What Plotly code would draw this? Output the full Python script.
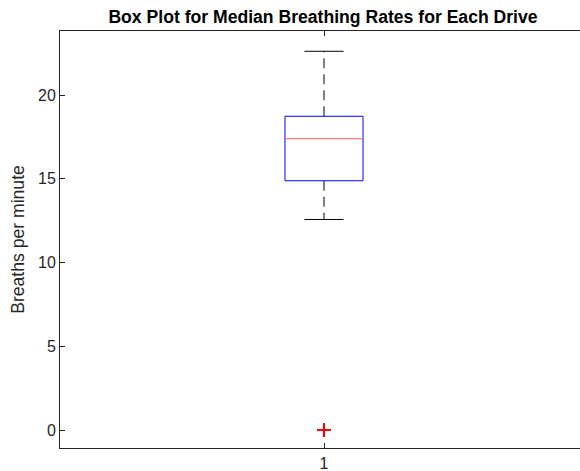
import plotly.graph_objects as go

# Box statistics (breaths per minute)
group = [1]
q1 = [14.88]
median = [17.39]
q3 = [18.73]
whisker_low = [12.57]
whisker_high = [22.61]
outliers = [0.0]

box_half = 0.0739
cap_half = 0.037

fig = go.Figure()
x0 = group[0]
# Whiskers (dashed)
fig.add_trace(go.Scatter(x=[x0, x0, None, x0, x0], y=[q3[0], whisker_high[0], None, q1[0], whisker_low[0]],
                         mode="lines", line=dict(color="black", width=1, dash="10px,6px"), hoverinfo="skip"))
# Caps
fig.add_trace(go.Scatter(x=[x0 - cap_half, x0 + cap_half, None, x0 - cap_half, x0 + cap_half],
                         y=[whisker_high[0], whisker_high[0], None, whisker_low[0], whisker_low[0]],
                         mode="lines", line=dict(color="black", width=1), hoverinfo="skip"))
# Box
fig.add_trace(go.Scatter(x=[x0 - box_half, x0 + box_half, x0 + box_half, x0 - box_half, x0 - box_half],
                         y=[q1[0], q1[0], q3[0], q3[0], q1[0]],
                         mode="lines", line=dict(color="blue", width=1), fill="toself",
                         fillcolor="rgba(255,255,255,1)", hoverinfo="skip"))
# Median
fig.add_trace(go.Scatter(x=[x0 - box_half, x0 + box_half], y=[median[0], median[0]],
                         mode="lines", line=dict(color="#ff5a5a", width=1), hoverinfo="skip"))
# Outliers
fig.add_trace(go.Scatter(x=[x0] * len(outliers), y=outliers, mode="markers",
                         marker=dict(symbol="cross-thin", size=10, line=dict(color="red", width=2)),
                         hoverinfo="skip"))

fig.update_layout(
    width=580, height=471,
    margin=dict(l=60, r=0, t=31, b=23),
    paper_bgcolor="white", plot_bgcolor="white",
    showlegend=False,
    font=dict(family="Liberation Sans, Arial, sans-serif", color="#262626", size=16),
    title=dict(text="<b>Box Plot for Median Breathing Rates for Each Drive</b>",
               x=323 / 580, xref="container", xanchor="center", y=1 - 17 / 471, yanchor="middle",
               font=dict(size=17.6, color="black")),
)
fig.update_xaxes(range=[0.5, 0.5 + 520 / 528], tickvals=group, ticktext=[str(g) for g in group],
                 showline=True, linecolor="#262626", linewidth=1, mirror="ticks",
                 ticks="inside", ticklen=5, tickcolor="#262626", showgrid=False, zeroline=False,
                 tickfont=dict(size=16), ticklabelstandoff=1, automargin=False)
fig.update_yaxes(range=[-1.07, 23.82], tickvals=[0, 5, 10, 15, 20],
                 showline=True, linecolor="#262626", linewidth=1, mirror=False,
                 ticks="inside", ticklen=5, tickcolor="#262626", showgrid=False, zeroline=False,
                 title=dict(text="Breaths per minute", font=dict(size=17.6), standoff=8),
                 tickfont=dict(size=16), automargin=False)

fig.write_html("out.html")
